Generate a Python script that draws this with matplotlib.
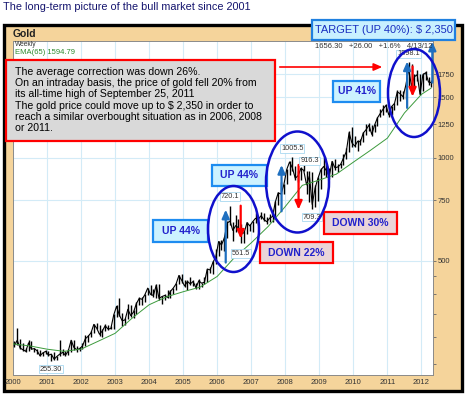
import numpy as np
import matplotlib
matplotlib.use("Agg")
import matplotlib.pyplot as plt
from matplotlib.patches import Rectangle, Ellipse, FancyArrowPatch

plt.rcParams['font.family'] = ['Liberation Sans', 'DejaVu Sans']

# monthly high / low / close, Jan 2000 .. Apr 2012
high = [292, 318, 296, 287, 279, 293, 291, 279, 277, 274, 270, 275,
        273, 268, 270, 264, 294, 277, 272, 277, 294, 294, 281, 280,
        288, 303, 304, 311, 327, 330, 325, 315, 326, 324, 322, 349,
        372, 389, 352, 341, 373, 371, 358, 378, 391, 392, 399, 417,
        426, 414, 428, 429, 395, 400, 410, 410, 416, 430, 454, 456,
        440, 438, 447, 438, 432, 442, 432, 448, 474, 478, 498, 540,
        572, 575, 587, 654, 720.1, 650, 680, 663, 640, 610, 650, 640,
        655, 690, 673, 695, 690, 670, 683, 680, 745, 795, 848, 838,
        928, 975, 1005.5, 948, 913, 937, 988, 912, 916.3, 905, 830, 880,
        930, 1005, 960, 930, 980, 990, 960, 965, 1025, 1070, 1195, 1226,
        1160, 1125, 1135, 1185, 1250, 1265, 1245, 1250, 1310, 1388, 1425, 1431,
        1425, 1415, 1445, 1575, 1577, 1560, 1632, 1898.1, 1880, 1760, 1805, 1760,
        1765, 1792, 1720, 1680]
low = [280, 283, 276, 272, 270, 272, 276, 271, 267, 264, 263, 268,
       263, 255.3, 257, 256, 263, 265, 264, 265, 271, 275, 271, 272,
       277, 282, 290, 300, 308, 315, 302, 300, 311, 313, 315, 317,
       343, 344, 323, 325, 338, 342, 341, 350, 372, 372, 380, 398,
       397, 392, 390, 385, 375, 383, 390, 388, 400, 412, 427, 431,
       418, 412, 425, 423, 414, 414, 418, 427, 434, 460, 456, 490,
       515, 537, 535, 582, 636, 570, 605, 612, 561.5, 565, 597, 610,
       608, 645, 637, 660, 651, 640, 647, 650, 672, 729, 781, 785,
       836, 890, 915, 860, 851, 860, 915, 785, 740, 709.3, 720, 745,
       810, 890, 880, 865, 880, 920, 905, 930, 950, 990, 1040, 1075,
       1075, 1045, 1090, 1110, 1165, 1200, 1155, 1190, 1240, 1315, 1330, 1360,
       1310, 1330, 1380, 1420, 1460, 1480, 1480, 1620, 1535, 1605, 1670, 1520,
       1560, 1690, 1625, 1612]
close = [283, 293, 278, 275, 272, 288, 276, 277, 273, 264, 269, 272,
         265, 267, 258, 263, 267, 270, 265, 273, 293, 279, 275, 277,
         282, 296, 301, 308, 326, 318, 305, 312, 323, 316, 317, 347,
         368, 347, 334, 336, 361, 346, 354, 375, 388, 386, 398, 416,
         399, 396, 424, 388, 393, 396, 391, 407, 416, 428, 453, 438,
         422, 435, 428, 435, 417, 437, 430, 433, 473, 470, 495, 513,
         569, 556, 582, 644, 653, 613, 633, 624, 599, 604, 646, 632,
         650, 665, 662, 677, 659, 650, 666, 673, 743, 789, 783, 834,
         923, 971, 933, 871, 885, 930, 918, 833, 884, 730, 814, 869,
         919, 942, 916, 883, 975, 934, 939, 955, 996, 1040, 1182, 1104,
         1081, 1116, 1113, 1180, 1207, 1244, 1169, 1246, 1307, 1346, 1386, 1421,
         1333, 1410, 1439, 1556, 1536, 1505, 1628, 1813, 1620, 1722, 1746, 1531,
         1744, 1770, 1662, 1656.3]

# EMA(65)
ema_t = [2000.0, 2000.5, 2001.0, 2001.5, 2002.0, 2002.5, 2003.0, 2003.5, 2004.0,
         2004.5, 2005.0, 2005.5, 2006.0, 2006.5, 2007.0, 2007.5, 2008.0, 2008.5,
         2009.0, 2009.5, 2010.0, 2010.5, 2011.0, 2011.5, 2012.0, 2012.28]
ema_v = [286, 282, 276, 272, 276, 291, 307, 340, 372, 392, 406, 419, 450, 510,
         564, 630, 720, 830, 860, 895, 970, 1050, 1140, 1350, 1530, 1594.79]

years = list(range(2000, 2013))
price_ticks = [500, 750, 1000, 1250, 1500, 1750]
minor_ticks = [250, 300, 350, 400, 450]

# labelled highs / lows: year, month, price, offset (pt)
marks = [(2001, 2, 255.30, -6, "255.30"), (2006, 5, 720.1, 7, "720.1"),
         (2006, 9, 561.5, -7, "561.5"), (2008, 3, 1005.5, 6, "1005.5"),
         (2008, 9, 916.3, 7, "916.3"), (2008, 10, 709.3, -6, "709.3"),
         (2011, 8, 1898.1, 6, "1898.1")]

# moves: year, from, to
ups = [(2006.25, 494, 705), (2007.89, 697, 952), (2011.58, 1397, 1909),
       (2012.32, 1656, 2180)]
downs = [(2006.69, 724, 580), (2008.39, 952, 705), (2011.74, 1845, 1508)]

W, H = 465, 396


def fxy(x, y):
    return x / W, 1 - y / H


def mt(y, m):
    return y + (m - 0.5) / 12


fig = plt.figure(figsize=(W / 100, H / 100), dpi=100)
fig.add_artist(Rectangle(fxy(3.5, 390.5), 458 / W, 366 / H, transform=fig.transFigure,
                         fc='#F5D49B', ec='black', lw=2.4, zorder=-1))

ax = fig.add_axes([13 / W, 1 - 375 / H, 420 / W, 334 / H])
t = 2000 + (np.arange(len(close)) + 0.5) / 12
ax.vlines(t, low, high, color='black', lw=1.0, zorder=3)
ax.plot(t, close, color='black', lw=0.8, zorder=3)
ax.plot(ema_t, ema_v, color='#3C9A3C', lw=0.7, zorder=3)

ax.set_yscale('log')
ax.set_xlim(2000, 2012.34)
ax.set_ylim(232, 2190)
ax.yaxis.tick_right()
ax.set_yticks(price_ticks)
ax.set_yticklabels([str(p) for p in price_ticks])
ax.set_yticks(minor_ticks, minor=True)
ax.set_yticklabels([], minor=True)
ax.set_xticks(years)
ax.set_xticklabels([str(y) for y in years])
ax.tick_params(axis='y', which='both', labelsize=5.5, labelcolor='#333333',
               color='#666666', length=2, width=0.6, pad=1.5)
ax.tick_params(axis='x', length=0, labelsize=5.5, labelcolor='#333333', pad=3)
ax.grid(True, which='major', color='#D3EBF7', lw=0.8)
ax.set_axisbelow(True)
for s in ax.spines.values():
    s.set_color('#8a8a8a')
    s.set_linewidth(0.7)

for y, m, p, off, txt in marks:
    ax.annotate(txt, xy=(mt(y, m), p), xytext=(0, off), textcoords='offset points',
                ha='center', va='center', fontsize=5.3, color='#333333', zorder=6,
                bbox=dict(boxstyle='square,pad=0.12', fc='white', ec='#A8D8F0', lw=0.6))

for x, p0, p1 in ups:
    ax.annotate('', xy=(x, p1), xytext=(x, p0), annotation_clip=False,
                arrowprops=dict(arrowstyle='-|>,head_width=0.22,head_length=0.5',
                                color='#1F6FBF', lw=1.6, shrinkA=0, shrinkB=0,
                                mutation_scale=10))
for x, p0, p1 in downs:
    ax.annotate('', xy=(x, p1), xytext=(x, p0), annotation_clip=False,
                arrowprops=dict(arrowstyle='-|>,head_width=0.22,head_length=0.5',
                                color='#FF0000', lw=1.6, shrinkA=0, shrinkB=0,
                                mutation_scale=10))

# header texts
fig.text(*fxy(3, 7), "The long-term picture of the bull market since 2001", fontsize=7.8,
         color='#14146E', va='center', ha='left')
fig.text(*fxy(13, 34), "Gold", fontsize=7.5, fontweight='bold', color='#222222', va='center')
fig.text(*fxy(15, 44.5), "Weekly", fontsize=4.8, color='#333333', va='center')
fig.text(*fxy(15, 52), "EMA(65) 1594.79", fontsize=5.5, color='#2E8B2E', va='center')
fig.text(*fxy(432, 47), "1656.30   +26.00   +1.6%   4/13/12", fontsize=5.5,
         color='#333333', va='center', ha='right')


def box(x0, y0, x1, y1, fc, ec, txt=None, color='#2222CC', size=7.5, bold=True):
    fig.add_artist(Rectangle(fxy(x0, y1), (x1 - x0) / W, (y1 - y0) / H,
                             transform=fig.transFigure, fc=fc, ec=ec, lw=1.6, zorder=5))
    if txt:
        fig.text(*fxy((x0 + x1) / 2, (y0 + y1) / 2), txt, fontsize=size, color=color,
                 fontweight='bold' if bold else 'normal', ha='center', va='center', zorder=6)


box(6, 60, 275, 141, '#D9D9D9', '#FF0000')
lines = ["The average correction was down 26%.",
         "On an intraday basis, the price of gold fell 20% from",
         "its all-time high of September 25, 2011",
         "The gold price could move up to $ 2,350 in order to",
         "reach a similar overbought situation as in 2006, 2008",
         "or 2011."]
for i, line in enumerate(lines):
    fig.text(*fxy(15, 71.7 + i * 11.3), line, fontsize=7.6, color='black', va='center', zorder=6)

box(312, 20, 455, 40, '#C8F0FF', '#2080E0', "TARGET (UP 40%): $ 2,350", color='#1A2FC0', size=8, bold=False)
box(153, 220, 208, 242, '#CCF2FF', '#1E8CF0', "UP 44%")
box(212, 165, 267, 186, '#CCF2FF', '#1E8CF0', "UP 44%")
box(333, 81, 380, 102, '#CCF2FF', '#1E8CF0', "UP 41%")
box(260, 242, 333, 263, '#EAD5D8', '#FF0000', "DOWN 22%")
box(324, 212, 397, 234, '#EAD5D8', '#FF0000', "DOWN 30%")

for cx, cy, w, h in [(233.5, 229, 51, 86), (297.5, 182, 63, 101), (414, 93, 52, 88)]:
    fig.add_artist(Ellipse(fxy(cx, cy), w / W, h / H, transform=fig.transFigure,
                           fill=False, ec='#1010CC', lw=1.8, zorder=7))

fig.add_artist(FancyArrowPatch(fxy(277, 67), fxy(385, 67), transform=fig.transFigure,
                               arrowstyle='-|>,head_width=0.22,head_length=0.5',
                               color='#FF0000', lw=1.2, mutation_scale=10, zorder=7))

fig.savefig("out.png", dpi=100)
